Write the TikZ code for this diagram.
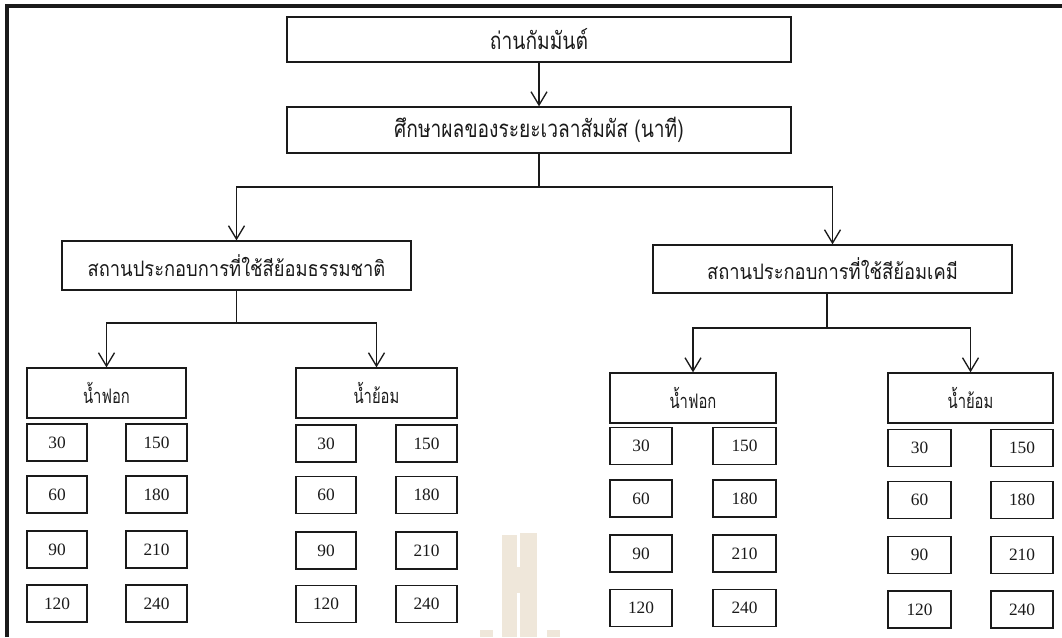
\documentclass[tikz,border=0pt]{standalone}
\usepackage{fontspec}
\setmainfont{Liberation Serif}
\newfontfamily\thaigroup[Script=Thai,FakeStretch=0.86]{Loma}
\newfontfamily\thaiwater[Script=Thai,FakeStretch=0.74]{Loma}
\newfontfamily\thainarrow[Script=Thai,FakeStretch=0.8]{Loma}
\usetikzlibrary{arrows.meta}
\definecolor{ink}{HTML}{1A1A1A}
\definecolor{wm}{HTML}{EFE7DA}
\begin{document}
\begin{tikzpicture}[x=0.75pt,y=-0.75pt,
  box/.style={draw=ink,line width=1pt,inner sep=0pt,text=ink,align=center},
  sz/.style 2 args={minimum width=#1*0.75pt,minimum height=#2*0.75pt},
  headbox/.style={box,font=\thainarrow\fontsize{18}{21}\selectfont},
  groupbox/.style={box,font=\thaigroup\fontsize{16}{19}\selectfont},
  waterbox/.style={box,sz={#1}{50},font=\thaiwater\fontsize{15}{18}\selectfont},
  numbox/.style={box,sz={#1}{37},font=\fontsize{13}{15}\selectfont},
  link/.style={draw=ink,line width=1pt},
  arr/.style={link,-{Straight Barb[length=10pt,width=12pt,line width=1pt]}}
]
\useasboundingbox (0,0) rectangle (1062,637);

% faint logo in the background
\fill[wm] (502,535) rectangle (517,637);
\fill[wm] (520,533) rectangle (537,637);
\fill[wm] (516,567) rectangle (521,593);
\fill[wm] (480,630) rectangle (493,637);
\fill[wm] (547,630) rectangle (560,637);

% outer frame (top and left edges)
\draw[ink,line width=2.6pt] (7,637) -- (7,6) -- (1062,6);

% main chain
\node[headbox,sz={504}{45}] (carbon) at (539,39.5) {ถ่านกัมมันต์};
\node[headbox,sz={504}{46}] (study) at (539,130) {ศึกษาผลของระยะเวลาสัมผัส (นาที)};

\node[groupbox,sz={349}{49}] (natural) at (236.5,265.5) {สถานประกอบการที่ใช้สีย้อมธรรมชาติ};
\node[groupbox,sz={359}{48}] (chemical) at (832.5,269) {สถานประกอบการที่ใช้สีย้อมเคมี};

\draw[arr] (carbon) -- (study);
\coordinate (split) at (539,187);
\draw[link] (study.south) -- (split);
\draw[arr] (split) -| (natural.north);
\draw[arr] (split) -| (chemical.north);

% natural dye branch
\node[waterbox=159] (nbleach) at (106.5,393) {น้ำฟอก};
\node[waterbox=161] (ndye) at (376.5,393) {น้ำย้อม};
\coordinate (nsplit) at (236.5,323);
\draw[link] (natural.south) -- (nsplit);
\draw[arr] (nsplit) -| (nbleach.north);
\draw[arr] (nsplit) -| (ndye.north);

% chemical dye branch
\node[waterbox=166] (cbleach) at (693,398) {น้ำฟอก};
\node[waterbox=165] (cdye) at (970.5,398) {น้ำย้อม};
\coordinate (ctop) at (827,294);
\coordinate (csplit) at (827,328);
\draw[link] (ctop) -- (csplit);
\draw[arr] (csplit) -| (cbleach.north);
\draw[arr] (csplit) -| (cdye.north);

% contact times (minutes)
\foreach \t/\u/\y in {30/150/442.5,60/180/494.5,90/210/549.5,120/240/603.5}{
  \node[numbox=60] (nb\t) at (57,\y) {\t};
  \node[numbox=61] (nb\u) at (156.5,\y) {\u};
}
\foreach \t/\u/\y in {30/150/443.5,60/180/495,90/210/550.5,120/240/604}{
  \node[numbox=60] (nd\t) at (326,\y) {\t};
  \node[numbox=61] (nd\u) at (426.5,\y) {\u};
}
\foreach \t/\u/\y in {30/150/446,60/180/498.5,90/210/553.5,120/240/608}{
  \node[numbox=62] (cb\t) at (641,\y) {\t};
  \node[numbox=63] (cb\u) at (744.5,\y) {\u};
}
\foreach \t/\u/\y in {30/150/448,60/180/500,90/210/555,120/240/609.5}{
  \node[numbox=63] (cd\t) at (919.5,\y) {\t};
  \node[numbox=62] (cd\u) at (1022,\y) {\u};
}
\end{tikzpicture}
\end{document}
